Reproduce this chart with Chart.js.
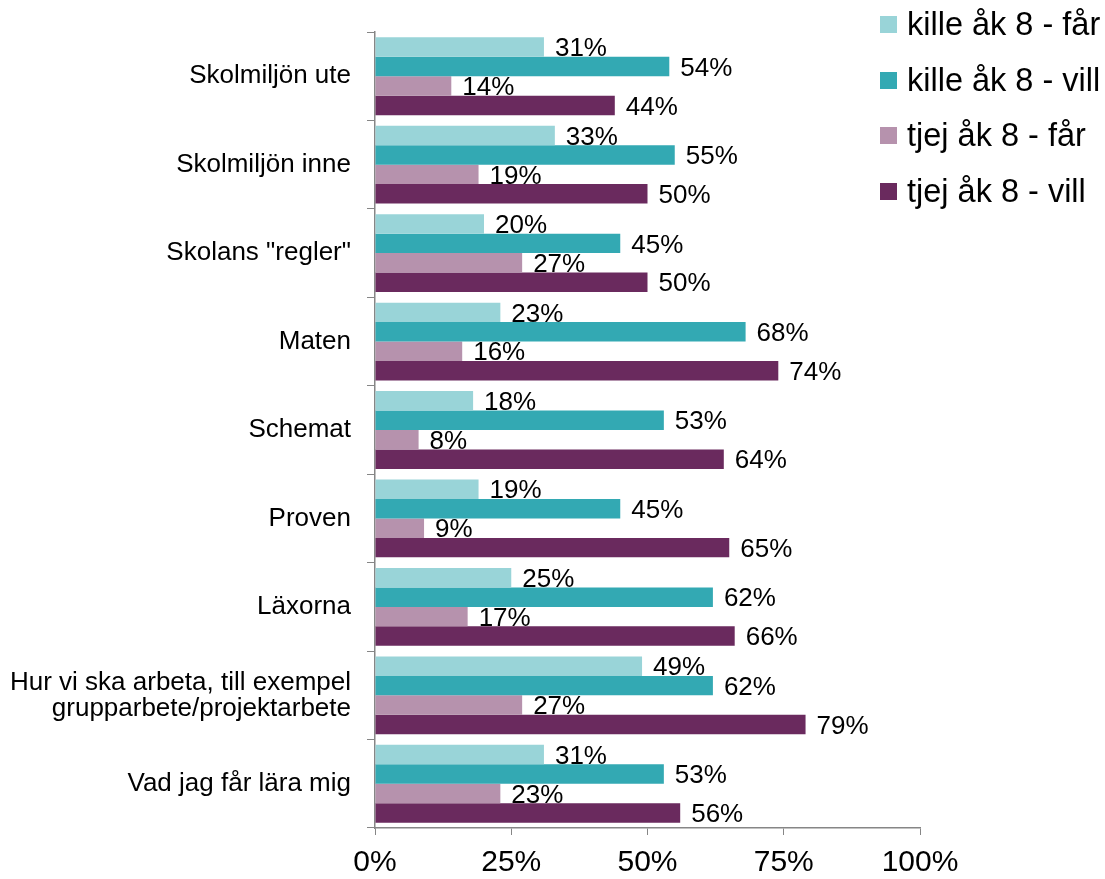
<!DOCTYPE html>
<html>
<head>
<meta charset="utf-8">
<script src="https://cdn.jsdelivr.net/npm/chart.js@4"></script>
<style>
  body { margin: 0; background: #fff; }
  #wrap { position: relative; width: 1105px; height: 879px; }
  #legend { position: absolute; left: 880px; top: -3px; font-family: 'Liberation Sans', Arial, sans-serif; font-size: 32.5px; color: #000; }
  .item { height: 55.5px; display: flex; align-items: center; white-space: nowrap; }
  .box { width: 17px; height: 17px; margin-right: 10px; }
</style>
</head>
<body>
<div id="wrap">
  <canvas id="chart" width="1105" height="879"></canvas>
  <div id="legend"></div>
</div>
<script>
// categories, top to bottom
const categories = [
  'Skolmiljön ute',
  'Skolmiljön inne',
  'Skolans "regler"',
  'Maten',
  'Schemat',
  'Proven',
  'Läxorna',
  ['Hur vi ska arbeta, till exempel', 'grupparbete/projektarbete'],
  'Vad jag får lära mig'
];

const seriesNames = ['kille åk 8 - får', 'kille åk 8 - vill', 'tjej åk 8 - får', 'tjej åk 8 - vill'];
const seriesColors = ['#99d4d8', '#33a9b3', '#b692ad', '#6a2a5e'];

const killeFar  = [31, 33, 20, 23, 18, 19, 25, 49, 31];
const killeVill = [54, 55, 45, 68, 53, 45, 62, 62, 53];
const tjejFar   = [14, 19, 27, 16, 8, 9, 17, 27, 23];
const tjejVill  = [44, 50, 50, 74, 64, 65, 66, 79, 56];

const xTicks = [0, 25, 50, 75, 100];

const seriesValues = [killeFar, killeVill, tjejFar, tjejVill];
const fontFam = "'Liberation Sans', Arial, sans-serif";

// values written at the end of each bar
const barLabels = {
  id: 'barLabels',
  afterDatasetsDraw(chart) {
    const ctx = chart.ctx;
    ctx.save();
    ctx.font = '26px ' + fontFam;
    ctx.fillStyle = '#000';
    ctx.textAlign = 'left';
    ctx.textBaseline = 'middle';
    chart.data.datasets.forEach((ds, i) => {
      chart.getDatasetMeta(i).data.forEach((bar, j) => {
        ctx.fillText(ds.data[j] + '%', bar.x + 11, bar.y + 2);
      });
    });
    ctx.restore();
  }
};

const data1 = {
  labels: categories,
  datasets: seriesNames.map((name, i) => ({
    label: name,
    data: seriesValues[i],
    backgroundColor: seriesColors[i],
    borderWidth: 0,
    categoryPercentage: 0.88,
    barPercentage: 1.0
  }))
};

const config = {
  type: 'bar',
  data: data1,
  options: {
    indexAxis: 'y',
    responsive: false,
    animation: false,
    layout: { padding: { left: 0, right: 185, top: 32, bottom: 0 } },
    plugins: {
      legend: { display: false },
      tooltip: { enabled: false }
    },
    scales: {
      x: {
        min: 0,
        max: 100,
        afterBuildTicks: (scale) => { scale.ticks = xTicks.map(v => ({ value: v })); },
        afterFit: (scale) => { scale.height = 51; },
        grid: { drawOnChartArea: false, drawTicks: true, tickLength: 7, color: '#868686' },
        border: { display: true, color: '#868686', width: 1.5 },
        ticks: {
          color: '#000',
          font: { family: fontFam, size: 30 },
          padding: 10,
          callback: (v) => v + '%'
        }
      },
      y: {
        afterFit: (scale) => { scale.width = 375; },
        grid: { drawOnChartArea: false, drawTicks: true, tickLength: 8, color: '#868686', offset: true },
        border: { display: true, color: '#868686', width: 1.5 },
        ticks: {
          color: '#000',
          font: { family: fontFam, size: 26, lineHeight: 1.0 },
          padding: 16
        }
      }
    }
  },
  plugins: [barLabels]
};

const myChart = new Chart(document.getElementById('chart'), config);

// legend next to the plot, overlapping its right edge like the original
const legend = document.getElementById('legend');
seriesNames.forEach((name, i) => {
  legend.insertAdjacentHTML('beforeend',
    `<div class="item"><span class="box" style="background:${seriesColors[i]}"></span>${name}</div>`);
});
</script>
</body>
</html>
